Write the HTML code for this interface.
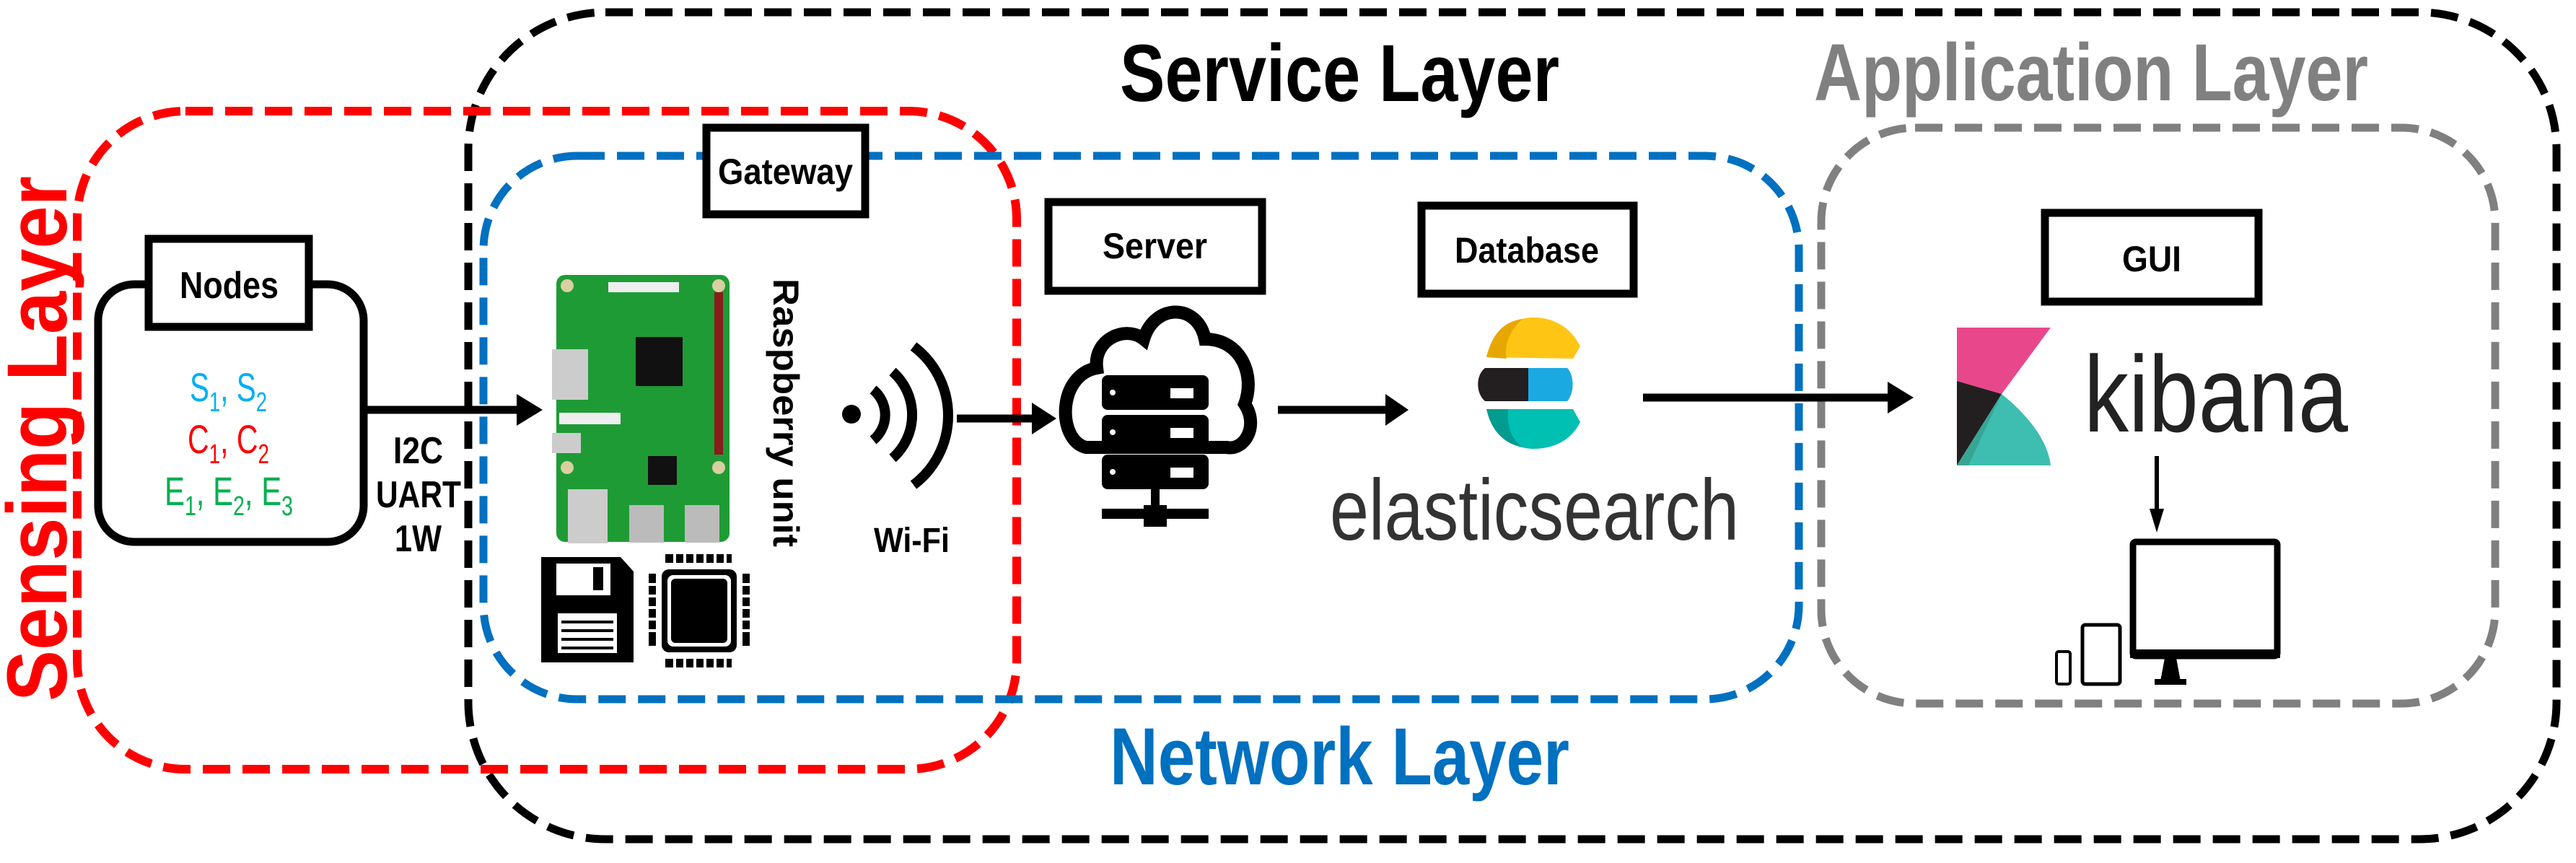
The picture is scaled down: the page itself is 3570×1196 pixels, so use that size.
<!DOCTYPE html>
<html><head><meta charset="utf-8"><style>
html,body{margin:0;padding:0;background:#fff;}
svg{display:block;}
text{font-family:"Liberation Sans Narrow","Liberation Sans",sans-serif;}
</style></head><body>
<svg width="3570" height="1196" viewBox="0 0 3570 1196" xmlns="http://www.w3.org/2000/svg">
<!-- Layer boxes -->
<rect x="649" y="17" width="2894" height="1146" rx="190" fill="none" stroke="#000" stroke-width="11" stroke-dasharray="38 17"/>
<rect x="107" y="154" width="1302" height="912" rx="150" fill="none" stroke="#ff0000" stroke-width="12" stroke-dasharray="38 17"/>
<rect x="670" y="216" width="1823" height="753" rx="130" fill="none" stroke="#0070c0" stroke-width="11" stroke-dasharray="38 17"/>
<rect x="2524" y="177" width="934" height="798" rx="130" fill="none" stroke="#808080" stroke-width="11" stroke-dasharray="38 17"/>

<!-- Layer titles -->
<text x="1552" y="140" font-size="112" font-weight="bold" textLength="609" lengthAdjust="spacingAndGlyphs">Service Layer</text>
<text x="2514" y="139" font-size="112" font-weight="bold" fill="#808080" textLength="768" lengthAdjust="spacingAndGlyphs">Application Layer</text>
<text x="1538" y="1087" font-size="112" font-weight="bold" fill="#0070c0" textLength="637" lengthAdjust="spacingAndGlyphs">Network Layer</text>
<text transform="translate(92,972) rotate(-90)" font-size="118" font-weight="bold" fill="#ff0000" font-family="Liberation Sans, sans-serif" textLength="728" lengthAdjust="spacingAndGlyphs">Sensing Layer</text>

<!-- Nodes -->
<rect x="136" y="394" width="368" height="357" rx="50" fill="#fff" stroke="#000" stroke-width="11"/>
<rect x="206" y="331" width="222" height="122" fill="#fff" stroke="#000" stroke-width="11"/>
<text x="249" y="413" font-size="52" font-weight="bold" textLength="137" lengthAdjust="spacingAndGlyphs">Nodes</text>
<g font-size="56">
<text x="263" y="556" fill="#00b0f0" textLength="107" lengthAdjust="spacingAndGlyphs">S<tspan font-size="38" dy="14">1</tspan><tspan dy="-14">, S</tspan><tspan font-size="38" dy="14">2</tspan></text>
<text x="260" y="628" fill="#ff0000" textLength="113" lengthAdjust="spacingAndGlyphs">C<tspan font-size="38" dy="14">1</tspan><tspan dy="-14">, C</tspan><tspan font-size="38" dy="14">2</tspan></text>
<text x="228" y="700" fill="#00b050" textLength="178" lengthAdjust="spacingAndGlyphs">E<tspan font-size="38" dy="14">1</tspan><tspan dy="-14">, E</tspan><tspan font-size="38" dy="14">2</tspan><tspan dy="-14">, E</tspan><tspan font-size="38" dy="14">3</tspan></text>
</g>
<!-- arrow nodes->pi -->
<line x1="504" y1="568" x2="722" y2="568" stroke="#000" stroke-width="11"/>
<polygon points="716,546 752,568 716,590" fill="#000"/>
<g font-size="52" font-weight="bold">
<text x="545" y="642" textLength="69" lengthAdjust="spacingAndGlyphs">I2C</text>
<text x="521" y="703" textLength="118" lengthAdjust="spacingAndGlyphs">UART</text>
<text x="547" y="764" textLength="65" lengthAdjust="spacingAndGlyphs">1W</text>
</g>

<!-- Gateway -->
<rect x="979" y="177" width="220" height="120" fill="#fff" stroke="#000" stroke-width="11"/>
<text x="995" y="255" font-size="50" font-weight="bold" textLength="187" lengthAdjust="spacingAndGlyphs">Gateway</text>

<!-- Raspberry Pi board -->
<rect x="771" y="381" width="240" height="370" rx="12" fill="#1f9b35"/>
<circle cx="786" cy="396" r="9" fill="#d9cfa0"/><circle cx="996" cy="396" r="9" fill="#d9cfa0"/>
<circle cx="786" cy="648" r="9" fill="#d9cfa0"/><circle cx="996" cy="648" r="9" fill="#d9cfa0"/>
<rect x="843" y="391" width="98" height="14" fill="#eee"/>
<rect x="990" y="405" width="12" height="225" fill="#8a1c1c"/>
<rect x="881" y="467" width="65" height="68" fill="#111"/>
<rect x="898" y="632" width="40" height="40" fill="#111"/>
<rect x="765" y="484" width="50" height="70" fill="#ccc"/>
<rect x="775" y="572" width="85" height="16" fill="#eee"/>
<rect x="765" y="600" width="40" height="28" fill="#ccc"/>
<rect x="787" y="678" width="55" height="75" fill="#ccc"/>
<rect x="872" y="700" width="48" height="52" fill="#bbb"/>
<rect x="949" y="700" width="48" height="52" fill="#bbb"/>
<text transform="translate(1072,386) rotate(90)" font-size="50" font-weight="bold" font-family="Liberation Sans, sans-serif" textLength="372" lengthAdjust="spacingAndGlyphs">Raspberry unit</text>

<!-- Floppy -->
<path d="M750,772 H860 L878,792 V918 H750 Z" fill="#000"/>
<rect x="771" y="781" width="75" height="44" fill="#fff"/>
<rect x="822" y="786" width="14" height="32" fill="#000"/>
<rect x="773" y="850" width="82" height="55" fill="#fff"/>
<g stroke="#000" stroke-width="4"><line x1="778" y1="862" x2="850" y2="862"/><line x1="778" y1="874" x2="850" y2="874"/><line x1="778" y1="886" x2="850" y2="886"/><line x1="778" y1="898" x2="850" y2="898"/></g>
<!-- Chip -->
<rect x="917" y="789" width="104" height="115" rx="10" fill="#000"/>
<rect x="925" y="797" width="88" height="99" rx="8" fill="#fff"/>
<rect x="930" y="802" width="78" height="89" rx="6" fill="#000"/>
<g fill="#000">
<rect x="922" y="768" width="92" height="12"/><rect x="922" y="913" width="92" height="12"/>
<rect x="899" y="795" width="10" height="100"/><rect x="1029" y="795" width="10" height="100"/>
</g>
<g fill="#fff">
<rect x="933" y="768" width="4" height="12"/><rect x="947" y="768" width="4" height="12"/><rect x="961" y="768" width="4" height="12"/><rect x="975" y="768" width="4" height="12"/><rect x="989" y="768" width="4" height="12"/><rect x="1003" y="768" width="4" height="12"/>
<rect x="933" y="913" width="4" height="12"/><rect x="947" y="913" width="4" height="12"/><rect x="961" y="913" width="4" height="12"/><rect x="975" y="913" width="4" height="12"/><rect x="989" y="913" width="4" height="12"/><rect x="1003" y="913" width="4" height="12"/>
<rect x="899" y="808" width="10" height="4"/><rect x="899" y="824" width="10" height="4"/><rect x="899" y="840" width="10" height="4"/><rect x="899" y="856" width="10" height="4"/><rect x="899" y="872" width="10" height="4"/>
<rect x="1029" y="808" width="10" height="4"/><rect x="1029" y="824" width="10" height="4"/><rect x="1029" y="840" width="10" height="4"/><rect x="1029" y="856" width="10" height="4"/><rect x="1029" y="872" width="10" height="4"/>
</g>

<!-- WiFi -->
<circle cx="1180" cy="574" r="13" fill="#000"/>
<g fill="none" stroke="#000" stroke-width="14">
<path d="M1210,540 A45,45 0 0 1 1210,610"/>
<path d="M1237,515 A80,80 0 0 1 1237,635"/>
<path d="M1266,480 A120,120 0 0 1 1266,672"/>
</g>
<text x="1211" y="765" font-size="48" font-weight="bold" textLength="105" lengthAdjust="spacingAndGlyphs">Wi-Fi</text>
<line x1="1326" y1="580" x2="1436" y2="580" stroke="#000" stroke-width="11"/>
<polygon points="1430,558 1464,580 1430,602" fill="#000"/>

<!-- Server -->
<rect x="1453" y="280" width="296" height="123" fill="#fff" stroke="#000" stroke-width="11"/>
<text x="1528" y="358" font-size="50" font-weight="bold" textLength="145" lengthAdjust="spacingAndGlyphs">Server</text>
<path d="M1505,620 C1465,610 1465,520 1520,510 C1515,470 1560,450 1585,470 C1600,420 1660,420 1670,470 C1720,470 1740,520 1725,560 C1745,590 1725,625 1700,620 Z" fill="none" stroke="#000" stroke-width="18"/>
<g fill="#000">
<rect x="1527" y="520" width="148" height="48" rx="8"/>
<rect x="1527" y="575" width="148" height="48" rx="8"/>
<rect x="1527" y="630" width="148" height="48" rx="8"/>
<rect x="1595" y="678" width="12" height="40"/>
<rect x="1527" y="705" width="148" height="14"/>
<rect x="1585" y="700" width="32" height="30"/>
</g>
<g fill="#fff"><rect x="1622" y="538" width="32" height="14"/><rect x="1622" y="593" width="32" height="14"/><rect x="1622" y="648" width="32" height="14"/>
<circle cx="1542" cy="544" r="4"/><circle cx="1542" cy="599" r="4"/><circle cx="1542" cy="654" r="4"/></g>
<line x1="1771" y1="568" x2="1926" y2="568" stroke="#000" stroke-width="11"/>
<polygon points="1920,546 1952,568 1920,590" fill="#000"/>

<!-- Database -->
<rect x="1970" y="285" width="294" height="122" fill="#fff" stroke="#000" stroke-width="11"/>
<text x="2016" y="364" font-size="50" font-weight="bold" textLength="200" lengthAdjust="spacingAndGlyphs">Database</text>
<!-- elastic logo -->
<path d="M2060,495 C2070,455 2100,440 2125,440 C2160,440 2180,460 2190,480 L2180,497 Z" fill="#fec514"/>
<path d="M2060,495 C2070,455 2090,445 2110,442 C2090,460 2085,480 2088,497 Z" fill="#e6a800"/>
<path d="M2058,510 H2118 V556 H2058 C2045,545 2045,520 2058,510 Z" fill="#231f20"/>
<path d="M2118,510 H2172 C2182,520 2182,545 2172,556 H2118 Z" fill="#1ba9e1"/>
<path d="M2060,567 L2180,567 L2190,585 C2180,605 2160,622 2125,622 C2100,622 2070,605 2060,567 Z" fill="#00bfb3"/>
<path d="M2060,567 L2090,567 C2088,590 2095,610 2110,620 C2085,615 2067,598 2060,567 Z" fill="#019b8f"/>
<text x="1843" y="748" font-size="120" fill="#333" font-family="DejaVu Sans, sans-serif" textLength="567" lengthAdjust="spacingAndGlyphs">elasticsearch</text>
<line x1="2277" y1="551" x2="2622" y2="551" stroke="#000" stroke-width="11"/>
<polygon points="2616,529 2652,551 2616,573" fill="#000"/>

<!-- GUI -->
<rect x="2834" y="295" width="296" height="123" fill="#fff" stroke="#000" stroke-width="11"/>
<text x="2941" y="376" font-size="50" font-weight="bold" textLength="82" lengthAdjust="spacingAndGlyphs">GUI</text>
<!-- kibana logo -->
<polygon points="2712,454 2842,454 2774,546 2712,528" fill="#e8488b"/>
<polygon points="2712,528 2774,546 2712,645" fill="#231f20"/>
<path d="M2774,546 C2810,575 2838,610 2842,645 L2712,645 Z" fill="#3ebeb0"/>
<path d="M2774,546 L2712,645 L2728,645 Z" fill="#37a595"/>
<text x="2888" y="598" font-size="150" fill="#222" font-family="DejaVu Sans, sans-serif" textLength="366" lengthAdjust="spacingAndGlyphs">kibana</text>
<line x1="2989" y1="632" x2="2989" y2="710" stroke="#000" stroke-width="6"/>
<polygon points="2979,705 2999,705 2989,738" fill="#000"/>
<!-- devices -->
<rect x="2956" y="751" width="200" height="158" rx="4" fill="#fff" stroke="#000" stroke-width="9"/>
<rect x="2952" y="900" width="208" height="12" fill="#000"/>
<polygon points="3000,912 3016,912 3022,944 2994,944" fill="#000"/>
<rect x="2986" y="941" width="44" height="8" fill="#000"/>
<rect x="2886" y="866" width="52" height="82" rx="4" fill="#fff" stroke="#000" stroke-width="5"/>
<rect x="2850" y="903" width="19" height="45" rx="3" fill="#fff" stroke="#000" stroke-width="4"/>
</svg>
</body></html>
